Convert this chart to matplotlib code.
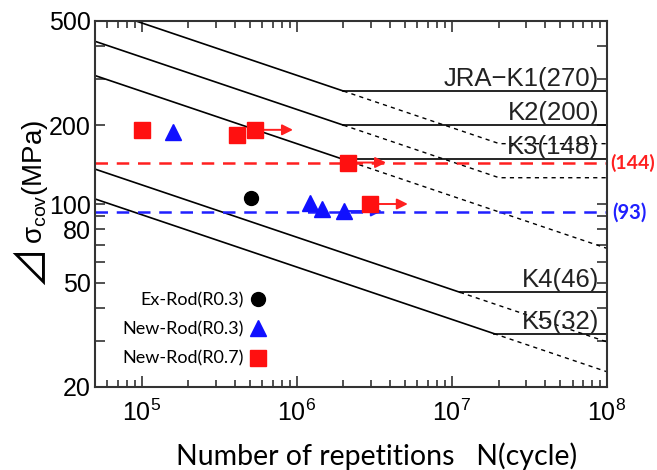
import numpy as np
import matplotlib
matplotlib.use("Agg")
import matplotlib.pyplot as plt
from matplotlib.lines import Line2D

plt.rcParams['font.family'] = ['Liberation Sans', 'DejaVu Sans']
plt.rcParams['mathtext.fontset'] = 'custom'
plt.rcParams['mathtext.rm'] = 'Liberation Sans'
plt.rcParams['mathtext.it'] = 'Liberation Sans:italic'
plt.rcParams['mathtext.bf'] = 'Liberation Sans:bold'

# ---- S-N design curves (slope m = 5, reference at 2e6 cycles) ----
curve_labels = ["JRA\u2212K1(270)", "K2(200)", "K3(148)", "K4(46)", "K5(32)"]
strength_2e6 = [270, 200, 148, 65, 50]
cutoff_limit = [270, 200, 148, 46, 32]
dotted_floor = [170, 126, None, None, None]   # horizontal tail of dotted lines
slope_m = 5
N_ref = 2e6

# ---- test data ----
ex_N = [5.1e5]
ex_S = [105]

new03_N = [1.6e5, 1.22e6, 1.46e6, 2.02e6]
new03_S = [189, 101, 95.5, 94]
new03_runout = [False, False, False, True]

new07_N = [1.0e5, 4.1e5, 5.4e5, 2.15e6, 2.97e6]
new07_S = [192, 183, 192, 144, 100]
new07_runout = [False, False, True, True, True]

limit_red = 144
limit_blue = 93

xlim = (5e4, 1e8)
ylim = (20, 500)

fig = plt.figure(figsize=(6.57, 4.70), dpi=100)
ax = fig.add_axes([95/657, 1-387/470, 512/657, 366/470])
ax.set_xscale('log')
ax.set_yscale('log')
ax.set_xlim(*xlim)
ax.set_ylim(*ylim)

def sn(N, s2):
    return s2 * (N_ref / N) ** (1.0 / slope_m)

for lab, s2, cut, floor in zip(curve_labels, strength_2e6, cutoff_limit, dotted_floor):
    Nk = N_ref * (s2 / cut) ** slope_m
    Ns = np.logspace(np.log10(xlim[0]), np.log10(Nk), 50)
    ax.plot(Ns, sn(Ns, s2), color='black', lw=1.2, zorder=2)
    ax.plot([Nk, xlim[1]], [cut, cut], color='black', lw=1.2, zorder=2)
    if floor is not None:
        Nf = Nk * (cut / floor) ** slope_m
        Nd = np.logspace(np.log10(Nk), np.log10(Nf), 30)
        ax.plot(np.append(Nd, xlim[1]), np.append(sn(Nd, s2), floor),
                color='black', lw=1.0, ls=(0, (3, 3)), zorder=2)
    else:
        Nd = np.logspace(np.log10(Nk), np.log10(xlim[1]), 30)
        ax.plot(Nd, sn(Nd, s2), color='black', lw=1.0, ls=(0, (3, 3)), zorder=2)
    ax.annotate(lab, xy=(8.9e7, cut), xytext=(0, 0), textcoords='offset points',
                ha='right', va='bottom', fontsize=18.5, color='#222222', zorder=3)

ax.axhline(limit_red, color='#ff2020', lw=1.8, ls=(0, (5, 3.5)), zorder=2.5)
ax.axhline(limit_blue, color='#2020ff', lw=1.8, ls=(0, (5, 3.5)), zorder=2.5)
ax.annotate("(%d)" % limit_red, xy=(1, limit_red), xycoords=('axes fraction', 'data'),
            xytext=(2, 0), textcoords='offset points', ha='left', va='center',
            fontsize=14, fontweight='bold', color='#ff2020', family='Lato')
ax.annotate("(%d)" % limit_blue, xy=(1, limit_blue), xycoords=('axes fraction', 'data'),
            xytext=(4, 0), textcoords='offset points', ha='left', va='center',
            fontsize=14.5, fontweight='bold', color='#2020ff', family='Lato')

arrow_factor = 1.75
def runout_arrows(Ns, Ss, flags, color):
    for n, s, f in zip(Ns, Ss, flags):
        if f:
            ax.annotate('', xy=(n * arrow_factor, s), xytext=(n, s),
                        arrowprops=dict(arrowstyle='-|>', color=color, lw=1.4,
                                        mutation_scale=16, shrinkA=0, shrinkB=0),
                        zorder=3)

runout_arrows(new07_N, new07_S, new07_runout, '#ff2020')
runout_arrows(new03_N, new03_S, new03_runout, '#2020ff')

ax.plot(ex_N, ex_S, 'o', color='black', ms=10, zorder=4, ls='none')
ax.plot(new03_N, new03_S, '^', color='#1010ff', ms=12, zorder=4, ls='none')
ax.plot(new07_N, new07_S, 's', color='#ff1010', ms=11, zorder=4, ls='none')

handles = [Line2D([], [], marker='o', color='black', ms=10, ls='none'),
           Line2D([], [], marker='^', color='#1010ff', ms=12, ls='none'),
           Line2D([], [], marker='s', color='#ff1010', ms=11, ls='none')]
labels = ["Ex-Rod(R0.3)", "New-Rod(R0.3)", "New-Rod(R0.7)"]
ax.legend(handles, labels, markerfirst=False, frameon=False, loc='upper right',
          bbox_to_anchor=(0.351, 0.284), prop={'family': 'Lato', 'size': 13},
          handlelength=0.9, handletextpad=0.3, labelspacing=0.73, borderpad=0)

# ticks
ax.set_xticks([1e5, 1e6, 1e7, 1e8])
ax.set_xticklabels([r'$10^{5}$', r'$10^{6}$', r'$10^{7}$', r'$10^{8}$'])
ax.set_yticks([20, 50, 80, 100, 200, 500])
ax.set_yticklabels(['20', '50', '80', '100', '200', '500'])
ax.set_yticks([30, 40, 60, 70, 90, 300, 400], minor=True)
ax.yaxis.set_minor_formatter(matplotlib.ticker.NullFormatter())
ax.tick_params(axis='both', which='both', direction='in', top=True, right=True,
               color='#333333', width=1.2)
ax.tick_params(axis='x', which='major', length=8, labelsize=18, pad=9)
ax.tick_params(axis='x', which='minor', length=5)
ax.tick_params(axis='y', which='both', length=7, labelsize=18, pad=3)
for sp in ax.spines.values():
    sp.set_color('#333333')
    sp.set_linewidth(1.5)

ax.set_xlabel("Number of repetitions   N(cycle)", family='Lato', fontsize=20.5)
ax.xaxis.set_label_coords(0.549, -0.150)

# y label: right-triangle delta (CJK glyph) + sigma_cov(MPa)
ylab_x, ylab_y = -0.103, 0.392
ax.text(ylab_x, ylab_y, "\u22bf", transform=ax.transAxes, rotation=90,
        rotation_mode='anchor', ha='right', va='baseline', fontsize=30,
        family=['Noto Sans CJK JP', 'DejaVu Sans'])
ax.text(ylab_x, ylab_y, "\u03c3$_{\\mathrm{cov}}$(MPa)", transform=ax.transAxes,
        rotation=90, rotation_mode='anchor', ha='left', va='baseline', fontsize=20)

fig.savefig('out.png', dpi=100)
